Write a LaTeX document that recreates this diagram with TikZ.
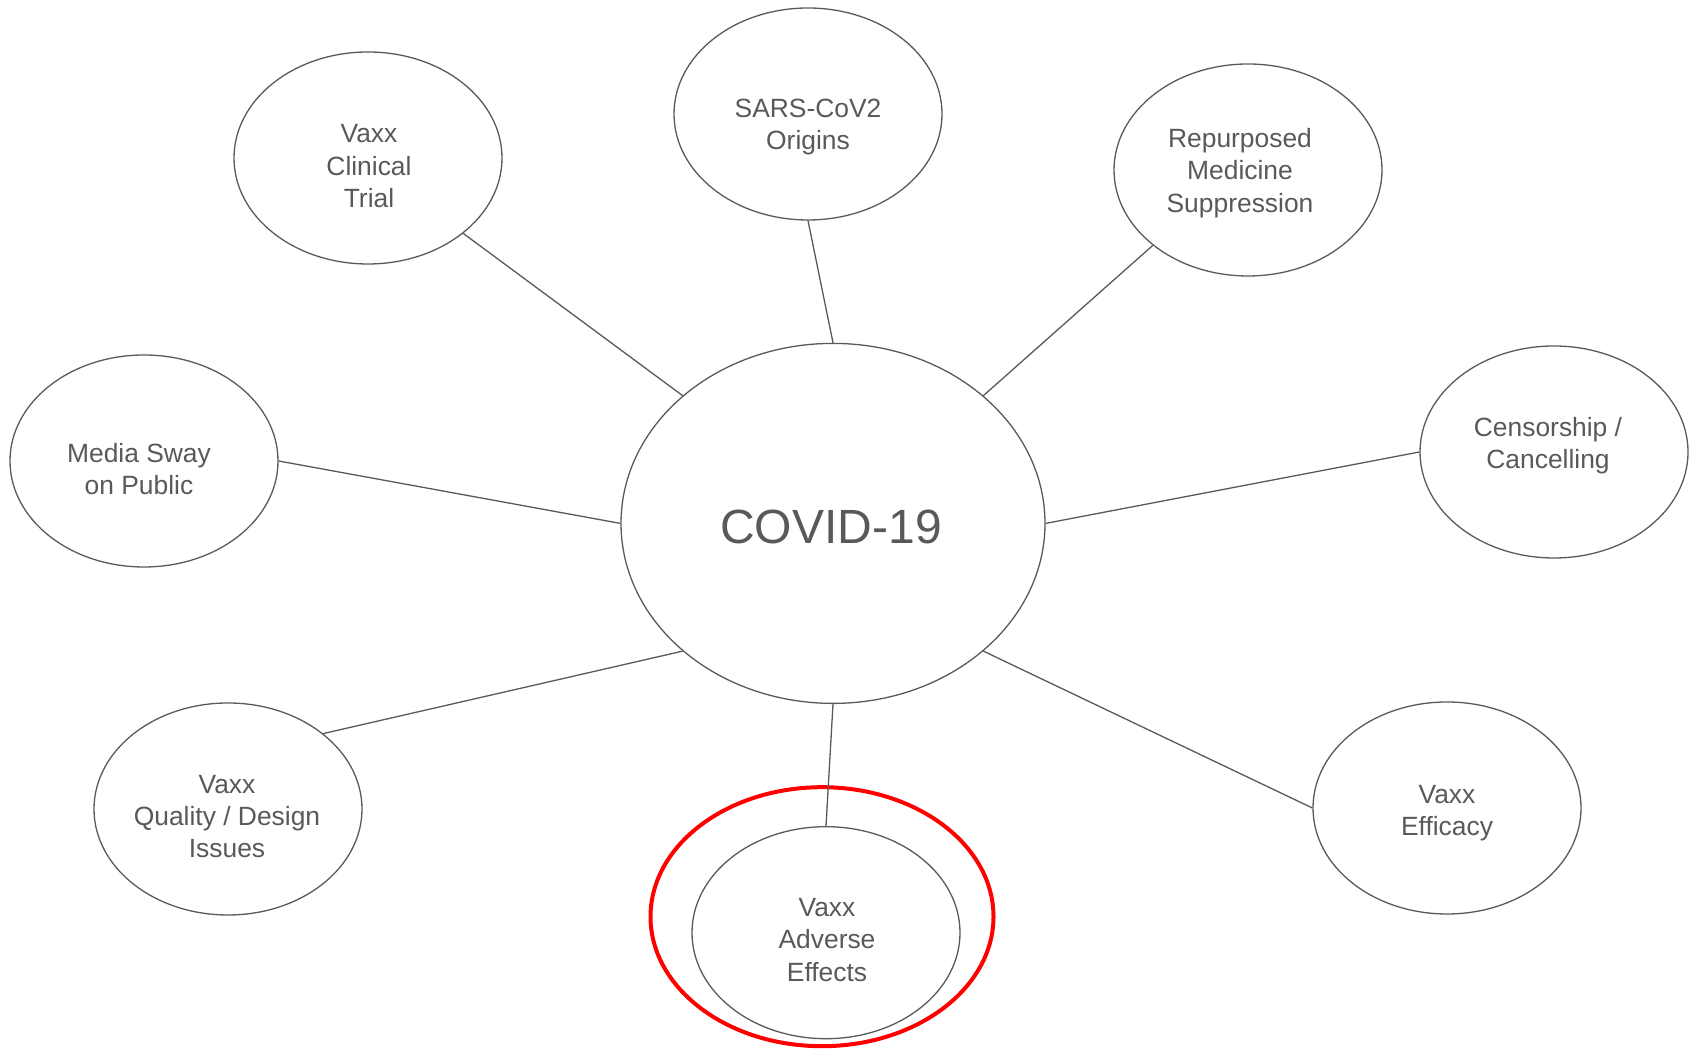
\documentclass[tikz,border=0pt]{standalone}
\usepackage{fontspec}
\setmainfont{Liberation Sans}
\usepackage{tikz}
\usetikzlibrary{shapes}

\definecolor{txtgray}{HTML}{595959}

\begin{document}
\begin{tikzpicture}[x=1pt,y=1pt,
  topic/.style={draw=txtgray, line width=1.3pt, ellipse, inner sep=0pt,
    minimum width=268pt, minimum height=212pt},
  topictext/.style={anchor=north, inner sep=0pt, align=center, text=txtgray,
    font=\fontsize{26.4}{32.2}\selectfont},
  link/.style={draw=txtgray, line width=1.3pt}]

\useasboundingbox (0,0) rectangle (1694,1051);

% centre
\node[topic, minimum width=424pt, minimum height=360pt] (covid) at (833,527.6) {};
\node[topictext, font=\fontsize{48}{56}\selectfont] (covidtxt)
  at ([xshift=-2,yshift=14.1]covid.center) {COVID-19};

% topics round the centre
\node[topic] (trial) at (368,893) {};
\node[topic] (origins) at (808,937) {};
\node[topic] (repurp) at (1248,881) {};
\node[topic] (censor) at (1554,599) {};
\node[topic] (media) at (144,590) {};
\node[topic] (quality) at (228,242) {};
\node[topic] (adverse) at (826,118.3) {};
\node[topic] (efficacy) at (1447,243) {};

% texts, each a bit off the centre of its ellipse
\node[topictext] (trialtxt) at ([xshift=1,yshift=33.5]trial.center) {Vaxx\\Clinical\\Trial};
\node[topictext] (originstxt) at ([yshift=15.3]origins.center) {SARS-CoV2\\Origins};
\node[topictext] (repurptxt) at ([xshift=-8,yshift=41.7]repurp.center) {Repurposed\\Medicine\\Suppression};
\node[topictext] (censortxt) at ([xshift=-6,yshift=35]censor.center) {Censorship /\\Cancelling};
\node[topictext] (mediatxt) at ([xshift=-5,yshift=17.7]media.center) {Media Sway\\on Public};
\node[topictext] (qualitytxt) at ([xshift=-1,yshift=34.3]quality.center) {Vaxx\\Quality / Design\\Issues};
\node[topictext] (adversetxt) at ([xshift=1,yshift=34.4]adverse.center) {Vaxx\\Adverse\\Effects};
\node[topictext] (efficacytxt) at ([yshift=23.3]efficacy.center) {Vaxx\\Efficacy};

% highlight
\draw[red, line width=4pt] (adverse.center) ++(-4,16) ellipse (171.5 and 129.5);

\draw[link] (trial.south east) -- (covid.north west);
\draw[link] (origins.south) -- (covid.north);
\draw[link] (repurp.south west) -- (covid.north east);
\draw[link] (censor.west) -- (covid.east);
\draw[link] (media.east) -- (covid.west);
\draw[link] (quality.north east) -- (covid.south west);
\draw[link] (adverse.north) -- (covid.south);
\draw[link] (efficacy.west) -- (covid.south east);

\end{tikzpicture}
\end{document}
